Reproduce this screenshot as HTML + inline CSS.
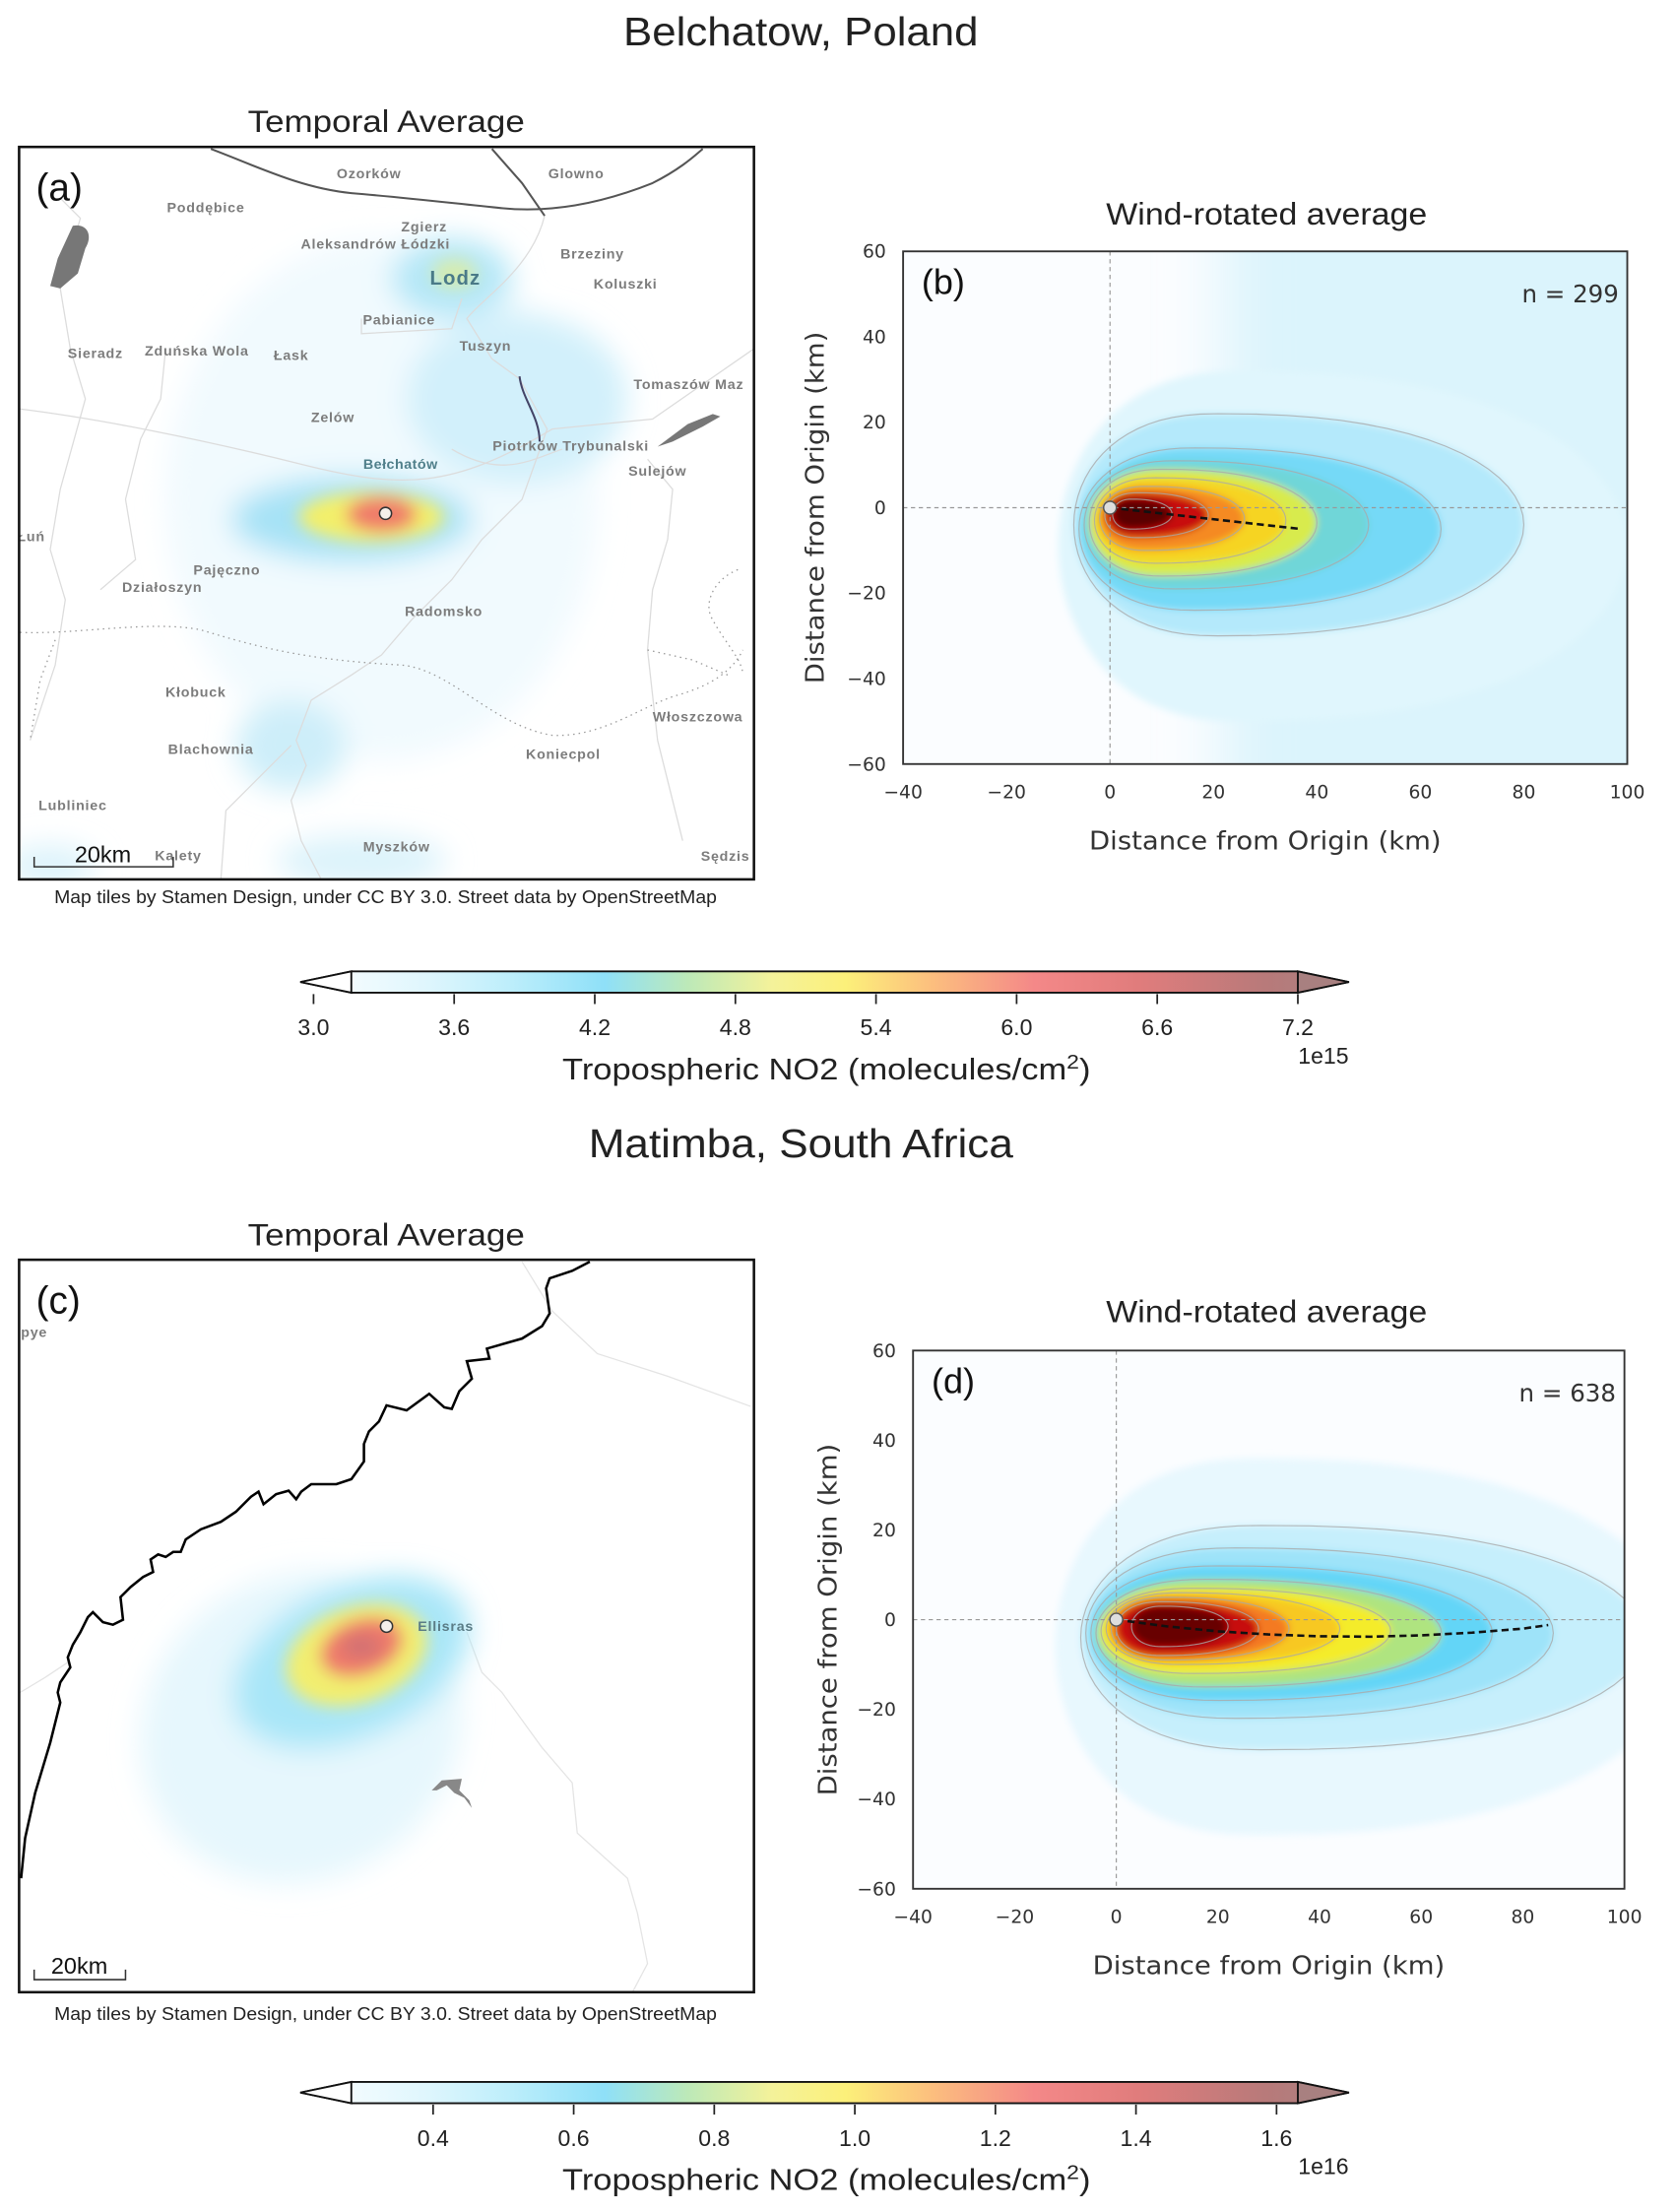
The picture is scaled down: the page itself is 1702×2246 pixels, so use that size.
<!DOCTYPE html>
<html><head><meta charset="utf-8"><style>
html,body{margin:0;padding:0;background:#fff;}
svg{display:block;}
text{font-family:"Liberation Sans",sans-serif;}
.tk{font-family:"DejaVu Sans","Liberation Sans",sans-serif;font-size:13px;fill:#333;}
.ml{font-family:"Liberation Sans",sans-serif;font-weight:bold;font-size:28px;fill:#7c7c7c;letter-spacing:1.5px;}
</style></head><body>
<svg id="root" xmlns="http://www.w3.org/2000/svg" width="1702" height="2246" viewBox="0 0 1180.3 1557.6">
<defs>
<filter id="mapblur" x="-50%" y="-50%" width="200%" height="200%"><feGaussianBlur stdDeviation="28"/></filter>
<filter id="mapblur2" x="-50%" y="-50%" width="200%" height="200%"><feGaussianBlur stdDeviation="16"/></filter>
<filter id="plblur" x="-20%" y="-20%" width="140%" height="140%"><feGaussianBlur stdDeviation="2.5"/></filter>
<filter id="hazeblur" x="-60%" y="-60%" width="220%" height="220%"><feGaussianBlur stdDeviation="22"/></filter>
<clipPath id="clipA"><rect x="38" y="18" width="1464" height="1459"/></clipPath>
<clipPath id="clipB"><rect x="636" y="177" width="510" height="361"/></clipPath>
<clipPath id="clipD"><rect x="643" y="951" width="501" height="379"/></clipPath>
<linearGradient id="cbgrad" x1="0" x2="1" y1="0" y2="0">
<stop offset="0" stop-color="#ffffff"/>
<stop offset="0.12" stop-color="#dff6fd"/>
<stop offset="0.2" stop-color="#bdeefb"/>
<stop offset="0.29" stop-color="#8fe0f8"/>
<stop offset="0.37" stop-color="#bde9b8"/>
<stop offset="0.45" stop-color="#f4f29a"/>
<stop offset="0.52" stop-color="#fcf07a"/>
<stop offset="0.6" stop-color="#fcc07e"/>
<stop offset="0.7" stop-color="#f48888"/>
<stop offset="0.8" stop-color="#e07c7c"/>
<stop offset="0.92" stop-color="#b87a7a"/>
<stop offset="1" stop-color="#a88080"/>
</linearGradient>
</defs>

<!-- Titles -->
<text x="564" y="32" text-anchor="middle" font-size="28" fill="#222" textLength="250" lengthAdjust="spacingAndGlyphs">Belchatow, Poland</text>
<text x="564" y="815" text-anchor="middle" font-size="28" fill="#222" textLength="299" lengthAdjust="spacingAndGlyphs">Matimba, South Africa</text>
<text x="272" y="93" text-anchor="middle" font-size="22" fill="#222" textLength="195" lengthAdjust="spacingAndGlyphs">Temporal Average</text>
<text x="272" y="877" text-anchor="middle" font-size="22" fill="#222" textLength="195" lengthAdjust="spacingAndGlyphs">Temporal Average</text>
<text x="892" y="158" text-anchor="middle" font-size="22" fill="#222" textLength="226" lengthAdjust="spacingAndGlyphs">Wind-rotated average</text>
<text x="892" y="931" text-anchor="middle" font-size="22" fill="#222" textLength="226" lengthAdjust="spacingAndGlyphs">Wind-rotated average</text>

<!-- Panel a map -->
<g id="mapA" transform="translate(0,97.1) scale(0.3535)">
 <g clip-path="url(#clipA)">
  <rect x="38" y="18" width="1464" height="1459" fill="#fff"/>
  <g filter="url(#mapblur)">
   <ellipse cx="760" cy="720" rx="430" ry="520" fill="#f1fafe"/>
   <ellipse cx="1030" cy="520" rx="220" ry="170" fill="#d2f0fb"/>
   <ellipse cx="900" cy="280" rx="120" ry="80" fill="#b4e7f7"/>
   <ellipse cx="580" cy="1210" rx="110" ry="90" fill="#cdeef9"/>
   <ellipse cx="720" cy="1440" rx="170" ry="50" fill="#dbf3fb"/>
   <ellipse cx="100" cy="1450" rx="90" ry="40" fill="#dbf3fb"/>
   <ellipse cx="700" cy="760" rx="240" ry="85" fill="#a6e2f6"/>
  </g>
  <g filter="url(#mapblur2)">
   <ellipse cx="905" cy="270" rx="45" ry="30" fill="#d6ecb0"/>
   <ellipse cx="740" cy="755" rx="145" ry="50" fill="#f3ef6a"/>
   <ellipse cx="760" cy="750" rx="70" ry="35" fill="#f07a6a"/>
  </g>
  <g fill="none" stroke="#dcdcdc" stroke-width="2.5">
   <path d="M1085,155 C1060,260 960,320 930,360 L980,440 L1035,480 L1090,580 L1040,720 L960,800 L900,880 L820,960 L760,1030 L700,1070 L620,1120 L590,1200 L610,1250 L580,1320 L600,1400 L640,1477"/>
   <path d="M40,540 C200,560 400,600 600,650 C800,700 900,700 1100,580 L1300,560 L1502,420"/>
   <path d="M120,120 L160,160 L120,300 L140,420 L170,520 L120,700 L100,820 L130,920 L110,1050 L60,1200"/>
   <path d="M330,420 L320,520 L280,600 L250,720 L270,840 L200,900"/>
   <path d="M720,360 L720,390 L900,380 L920,320"/>
   <path d="M1290,640 L1340,700 L1330,800 L1300,900 L1290,1020 L1310,1200 L1360,1400"/>
   <path d="M900,620 C1000,680 1060,640 1120,620"/>
   <path d="M580,1210 L450,1340 L440,1477"/>
  </g>
  <g fill="none" stroke="#999" stroke-width="2.5" stroke-dasharray="3,8">
   <path d="M40,985 C150,990 300,960 400,980 C500,1010 600,1040 800,1050 C900,1060 980,1170 1100,1190 C1200,1195 1280,1130 1350,1110 C1420,1090 1460,1060 1480,1020"/>
   <path d="M1470,860 C1420,880 1400,930 1420,960 C1440,1000 1480,1040 1480,1070"/>
   <path d="M110,1000 L80,1080 L60,1200"/>
   <path d="M1290,1020 L1380,1040 L1450,1070"/>
  </g>
  <path d="M420,22 C520,60 600,100 700,110 C820,120 900,130 1000,140 C1100,150 1200,130 1300,90 C1360,60 1390,30 1400,22" fill="none" stroke="#555" stroke-width="4"/>
  <path d="M980,22 L1040,90 L1085,155" fill="none" stroke="#555" stroke-width="4"/>
  <path d="M1035,475 C1040,520 1075,555 1075,605" fill="none" stroke="#446" stroke-width="4"/>
  <path d="M145,175 C175,170 185,195 170,220 L155,270 L120,300 L100,295 L115,240 Z" fill="#777"/>
  <path d="M1310,615 L1370,570 L1420,550 L1435,555 L1400,575 L1340,605 Z" fill="#777"/>
  <g class="ml" text-anchor="middle">
   <text x="735" y="80">Ozorków</text><text x="1148" y="80">Glowno</text>
   <text x="410" y="148">Poddębice</text><text x="845" y="186">Zgierz</text>
   <text x="748" y="221">Aleksandrów Łódzki</text><text x="1180" y="240">Brzeziny</text>
   <text x="1246" y="300">Koluszki</text><text x="795" y="372">Pabianice</text>
   <text x="190" y="438">Sieradz</text><text x="392" y="434">Zduńska Wola</text>
   <text x="580" y="442">Łask</text><text x="967" y="424">Tuszyn</text>
   <text x="1372" y="500">Tomaszów Maz</text><text x="663" y="566">Zelów</text>
   <text x="1137" y="623">Piotrków Trybunalski</text>
   <text x="1310" y="673">Sulejów</text><text x="62" y="803">Łuń</text>
   <text x="452" y="870">Pajęczno</text><text x="323" y="904">Działoszyn</text>
   <text x="884" y="952">Radomsko</text><text x="390" y="1113">Kłobuck</text>
   <text x="1390" y="1162">Włoszczowa</text><text x="420" y="1227">Blachownia</text>
   <text x="1122" y="1237">Koniecpol</text><text x="145" y="1339">Lubliniec</text>
   <text x="355" y="1439">Kalety</text><text x="790" y="1421">Myszków</text>
   <text x="1445" y="1440">Sędzis</text>
  </g>
  <text x="907" y="292" text-anchor="middle" font-size="40" font-weight="bold" fill="#4a7a88" letter-spacing="2">Lodz</text>
  <text x="798" y="659" text-anchor="middle" font-size="28" font-weight="bold" fill="#4f7f8a" letter-spacing="1">Bełchatów</text>
 </g>
 <circle cx="768" cy="748" r="12" fill="#f6f0ea" stroke="#333" stroke-width="3"/>
 <rect x="38" y="18" width="1464" height="1459" fill="none" stroke="#111" stroke-width="5"/>
 <text x="118" y="125" text-anchor="middle" font-size="76" fill="#111">(a)</text>
 <path d="M68,1432 L68,1452 L345,1452 L345,1432" fill="none" stroke="#333" stroke-width="3"/>
 <text x="205" y="1443" text-anchor="middle" font-size="46" fill="#111">20km</text>
 <text x="768" y="1524" text-anchor="middle" font-size="36" fill="#222" textLength="1320" lengthAdjust="spacingAndGlyphs">Map tiles by Stamen Design, under CC BY 3.0. Street data by OpenStreetMap</text>
</g>

<!-- Panel c map -->
<g id="mapC" transform="translate(0,880.7) scale(0.3535)">
 <rect x="38" y="18" width="1464" height="1459" fill="#fff"/>
 <g clip-path="url(#clipA)">
  <g fill="none" stroke="#e4e4e4" stroke-width="2.5">
   <path d="M930,760 L960,840 L1000,880 L1080,990 L1140,1060 L1150,1160 L1250,1250 L1270,1320 L1290,1420 L1260,1477"/>
   <path d="M1040,22 L1100,120 L1190,205 L1330,250 L1495,310"/>
   <path d="M40,880 L90,850 L135,820"/>
  </g>
  <g filter="url(#mapblur)">
   <ellipse cx="600" cy="950" rx="330" ry="300" fill="#e6f7fd" transform="rotate(-35 600 950)"/>
   <ellipse cx="700" cy="820" rx="250" ry="150" fill="#a8e6f8" transform="rotate(-25 700 820)"/>
  </g>
  <g filter="url(#mapblur2)">
   <ellipse cx="710" cy="805" rx="145" ry="95" fill="#f2ee70" transform="rotate(-20 710 805)"/>
   <ellipse cx="720" cy="790" rx="85" ry="55" fill="#ef7a6a" transform="rotate(-20 720 790)"/>
   <ellipse cx="720" cy="788" rx="40" ry="25" fill="#d47272"/>
  </g>
  <path d="M1175,22 L1140,40 L1095,55 L1088,75 L1095,125 L1080,150 L1040,175 L970,195 L975,215 L930,220 L940,255 L915,280 L900,315 L885,312 L855,285 L810,318 L770,308 L755,340 L735,360 L725,385 L725,420 L700,455 L670,465 L620,465 L600,480 L590,495 L575,478 L550,485 L525,505 L515,480 L500,490 L470,520 L440,540 L400,555 L370,575 L360,600 L345,600 L330,610 L315,605 L300,615 L305,640 L285,650 L260,670 L240,690 L245,735 L225,745 L205,740 L185,720 L175,730 L160,760 L145,785 L135,810 L140,830 L120,860 L115,880 L120,900 L100,980 L70,1080 L50,1170 L42,1250" fill="none" stroke="#000" stroke-width="5"/>
  <path d="M860,1075 L880,1055 L920,1052 L915,1075 L935,1095 L940,1110 L925,1090 L905,1080 L890,1065 L870,1075 Z" fill="#888"/>
  <text x="68" y="172" text-anchor="middle" class="ml">pye</text>
  <text x="888" y="757" text-anchor="middle" class="ml" style="fill:#5a7c86">Ellisras</text>
 </g>
 <circle cx="770" cy="748" r="12" fill="#f6f0ea" stroke="#333" stroke-width="3"/>
 <rect x="38" y="18" width="1464" height="1459" fill="none" stroke="#111" stroke-width="5"/>
 <text x="116" y="125" text-anchor="middle" font-size="76" fill="#111">(c)</text>
 <path d="M68,1432 L68,1452 L250,1452 L250,1432" fill="none" stroke="#333" stroke-width="3"/>
 <text x="158" y="1440" text-anchor="middle" font-size="46" fill="#111">20km</text>
 <text x="768" y="1532" text-anchor="middle" font-size="36" fill="#222" textLength="1320" lengthAdjust="spacingAndGlyphs">Map tiles by Stamen Design, under CC BY 3.0. Street data by OpenStreetMap</text>
</g>

<g id="plotB"></g>
<g id="plotD"></g>
<g id="cb1"></g>
<g id="cb2"></g>
</svg>

<script>
// ----- Shared tick data -----
const xTicks = [-40, -20, 0, 20, 40, 60, 80, 100];
const yTicks = [60, 40, 20, 0, -20, -40, -60];

// ----- Panel (b) data: contour levels (1e15 molecules/cm2) and their extents in km -----
const bLevels = [3.5, 3.8, 4.1, 4.3, 4.7, 5.1, 5.6, 6.3, 7.0];
const bXmin = [-10, -7, -6, -5, -4, -3, -2, -1, 0.5];
const bXmax = [100, 80, 64, 50, 40, 34, 26, 19, 12];
const bYtop = [32, 22, 14, 11, 9, 7, 5, 3.5, 2];
const bYbot = [-50, -30, -24, -19, -16, -13, -10, -7, -5];
const bPathX = [0, 37];
const bPathY = [0, -5];
const bCount = 299;

// ----- Panel (d) data (1e16 molecules/cm2) -----
const dLevels = [0.40, 0.50, 0.58, 0.66, 0.78, 0.88, 1.00, 1.15, 1.35, 1.55];
const dXmin = [-12, -7, -6, -5, -4, -3, -2, -1, 0, 3];
const dXmax = [112, 104, 86, 74, 64, 54, 44, 34, 28, 22];
const dYtop = [36, 21, 16, 12, 9, 7, 6, 5, 4, 3];
const dYbot = [-48, -29, -22, -18, -15, -12, -10, -9, -8, -6];
const dPathX = [0, 10, 20, 30, 40, 50, 60, 70, 80, 85];
const dPathY = [0, -1.5, -2.6, -3.3, -3.7, -3.8, -3.5, -2.9, -2.0, -1.2];
const dCount = 638;

// ----- Colorbar data -----
const cb1Ticks = [3.0, 3.6, 4.2, 4.8, 5.4, 6.0, 6.6, 7.2];
const cb1Labels = ['3.0', '3.6', '4.2', '4.8', '5.4', '6.0', '6.6', '7.2'];
const cb2Ticks = [0.4, 0.6, 0.8, 1.0, 1.2, 1.4, 1.6];
const cb2Labels = ['0.4', '0.6', '0.8', '1.0', '1.2', '1.4', '1.6'];

const NS = 'http://www.w3.org/2000/svg';
function el(tag, attrs, parent) {
  const e = document.createElementNS(NS, tag);
  for (const k in attrs) e.setAttribute(k, attrs[k]);
  parent.appendChild(e);
  return e;
}
const stops = [[0,'#ffffff'],[0.12,'#e0f6fd'],[0.21,'#a8e6fa'],[0.29,'#5ad2f6'],[0.36,'#a6e28a'],[0.43,'#f4f02a'],[0.55,'#f8c020'],[0.64,'#f47a20'],[0.74,'#e01a10'],[0.86,'#a00000'],[0.95,'#5a0000'],[1,'#500000']];
function hex(c){return [parseInt(c.substr(1,2),16),parseInt(c.substr(3,2),16),parseInt(c.substr(5,2),16)];}
function cmap(t){
  t=Math.max(0,Math.min(1,t));
  for(let i=1;i<stops.length;i++){
    if(t<=stops[i][0]){
      const a=stops[i-1],b=stops[i];const f=(t-a[0])/(b[0]-a[0]);
      const A=hex(a[1]),B=hex(b[1]);
      return 'rgb('+A.map((v,j)=>Math.round(v+(B[j]-v)*f)).join(',')+')';
    }
  }
  return stops[stops.length-1][1];
}

function plumePath(X, Y, xmin, xmax, yt, yb) {
  const xc = xmin + 0.32 * (xmax - xmin);
  const yc = (yt + yb) / 2;
  let d = '';
  for (let i = 0; i <= 72; i++) {
    const t = i / 72 * Math.PI * 2;
    const c = Math.cos(t), s = Math.sin(t);
    const cc = Math.sign(c) * Math.pow(Math.abs(c), 0.85);
    const x = c >= 0 ? xc + (xmax - xc) * cc : xc + (xc - xmin) * cc;
    const y = s >= 0 ? yc + (yt - yc) * s : yc + (yc - yb) * s;
    d += (i ? 'L' : 'M') + X(x).toFixed(2) + ',' + Y(y).toFixed(2);
  }
  return d + 'Z';
}

function drawPlot(g, box, clip, levels, xmin, xmax, ytop, ybot, vmin, vmax, px, py, count, panelLabel, haze) {
  const X = v => box.x0 + (v + 40) / 140 * (box.x1 - box.x0);
  const Y = v => box.y0 + (60 - v) / 120 * (box.y1 - box.y0);
  const bg = el('rect', {x: box.x0, y: box.y0, width: box.x1 - box.x0, height: box.y1 - box.y0, fill: '#fbfdff'}, g);
  
  
  const field = el('g', {'clip-path': 'url(#' + clip + ')'}, g);
  
  
  if (haze) {
    const hz = el('rect', {x: X(22), y: box.y0 - 60, width: box.x1 - X(22) + 60, height: box.y1 - box.y0 + 120, fill: '#d3f1fb', 'fill-opacity': 0.8, filter: 'url(#hazeblur)'}, field);
    
    
  }
  const fills = el('g', {filter: 'url(#plblur)'}, field);
  for (let i = 0; i < levels.length; i++) {
    const p = el('path', {d: plumePath(X, Y, xmin[i], xmax[i], ytop[i], ybot[i]), fill: cmap((levels[i] - vmin) / (vmax - vmin))}, fills);
    
    
  }
  for (let i = 1; i < levels.length; i++) {
    const c = el('path', {d: plumePath(X, Y, xmin[i], xmax[i], ytop[i], ybot[i]), fill: 'none', stroke: '#a9a9a9', 'stroke-width': 0.8, 'stroke-opacity': 0.8}, field);
    
    
  }
  const vl = el('line', {x1: X(0), x2: X(0), y1: box.y0, y2: box.y1, stroke: '#999', 'stroke-width': 0.8, 'stroke-dasharray': '3,2.5'}, g);
  
  
  const hl = el('line', {x1: box.x0, x2: box.x1, y1: Y(0), y2: Y(0), stroke: '#999', 'stroke-width': 0.8, 'stroke-dasharray': '3,2.5'}, g);
  
  
  let d = '';
  for (let i = 0; i < px.length; i++) d += (i ? 'L' : 'M') + X(px[i]).toFixed(2) + ',' + Y(py[i]).toFixed(2);
  const cl = el('path', {d: d, fill: 'none', stroke: '#111', 'stroke-width': 1.8, 'stroke-dasharray': '5,3'}, g);
  
  
  const oc = el('circle', {cx: X(0), cy: Y(0), r: 4.5, fill: '#ddd', stroke: '#555', 'stroke-width': 1}, g);
  
  
  const fr = el('rect', {x: box.x0, y: box.y0, width: box.x1 - box.x0, height: box.y1 - box.y0, fill: 'none', stroke: '#333', 'stroke-width': 1.3}, g);
  
  
  for (const v of xTicks) {
    const t = el('text', {x: X(v), y: box.y1 + 24, 'text-anchor': 'middle', class: 'tk'}, g);
    t.textContent = (v < 0 ? '\u2212' + (-v) : '' + v);
    
    
  }
  for (const v of yTicks) {
    const t = el('text', {x: box.x0 - 12, y: Y(v) + 4.5, 'text-anchor': 'end', class: 'tk'}, g);
    t.textContent = (v < 0 ? '\u2212' + (-v) : '' + v);
    
    
  }
  const xl = el('text', {x: (box.x0 + box.x1) / 2, y: box.y1 + 60, 'text-anchor': 'middle', class: 'tk', style: 'font-size:18px', textLength: 248, lengthAdjust: 'spacingAndGlyphs'}, g);
  xl.textContent = 'Distance from Origin (km)';
  
  
  const yx = box.ylabX, yy = (box.y0 + box.y1) / 2;
  const yl = el('text', {x: yx, y: yy, 'text-anchor': 'middle', class: 'tk', style: 'font-size:18px', textLength: 248, lengthAdjust: 'spacingAndGlyphs', transform: 'rotate(-90 ' + yx + ' ' + yy + ')'}, g);
  yl.textContent = 'Distance from Origin (km)';
  
  
  const pl = el('text', {x: box.x0 + 13, y: box.y0 + 30, 'font-size': 25, fill: '#111'}, g);
  pl.textContent = panelLabel;
  
  
  const nt = el('text', {x: box.x1 - 6, y: box.y0 + 36, 'text-anchor': 'end', class: 'tk', style: 'font-size:17px'}, g);
  nt.textContent = 'n = ' + count;
  
  
}

drawPlot(document.getElementById('plotB'), {x0: 636, x1: 1146, y0: 177, y1: 538, ylabX: 580}, 'clipB',
  bLevels, bXmin, bXmax, bYtop, bYbot, 3.0, 7.2, bPathX, bPathY, bCount, '(b)', true);
drawPlot(document.getElementById('plotD'), {x0: 643, x1: 1144, y0: 951, y1: 1330, ylabX: 589}, 'clipD',
  dLevels, dXmin, dXmax, dYtop, dYbot, 0.28, 1.64, dPathX, dPathY, dCount, '(d)', false);

function drawColorbar(g, y0, y1, ticks, labels, t0x, t1x, v0, v1, mult) {
  const V = v => t0x + (v - v0) / (v1 - v0) * (t1x - t0x);
  const xs = 247.4, xe = 914, tip = 950, ym = (y0 + y1) / 2;
  const body = el('path', {d: 'M211.5,' + ym + ' L' + xs + ',' + y0 + ' L' + xe + ',' + y0 + ' L' + tip + ',' + ym + ' L' + xe + ',' + y1 + ' L' + xs + ',' + y1 + ' Z', fill: 'url(#cbgrad)', stroke: '#111', 'stroke-width': 1.3}, g);
  
  
  const lt = el('path', {d: 'M211.5,' + ym + ' L' + xs + ',' + y0 + ' L' + xs + ',' + y1 + ' Z', fill: '#fff', stroke: '#111', 'stroke-width': 1.3}, g);
  
  
  const rt = el('path', {d: 'M' + tip + ',' + ym + ' L' + xe + ',' + y0 + ' L' + xe + ',' + y1 + ' Z', fill: '#a88080', stroke: '#111', 'stroke-width': 1.3}, g);
  
  
  for (let i = 0; i < ticks.length; i++) {
    const x = V(ticks[i]);
    const tm = el('line', {x1: x, x2: x, y1: y1 + 1, y2: y1 + 8, stroke: '#222', 'stroke-width': 1.2}, g);
    
    
    const t = el('text', {x: x, y: y1 + 30, 'text-anchor': 'middle', 'font-size': 16, fill: '#222'}, g);
    t.textContent = labels[i];
    
    
  }
  const m = el('text', {x: 932, y: y1 + 50, 'text-anchor': 'middle', 'font-size': 16, fill: '#222'}, g);
  m.textContent = mult;
  
  
  const lb = el('text', {x: 582, y: y1 + 61, 'text-anchor': 'middle', 'font-size': 21, fill: '#222', textLength: 372, lengthAdjust: 'spacingAndGlyphs'}, g);
  lb.innerHTML = 'Tropospheric NO2 (molecules/cm<tspan baseline-shift="super" font-size="14">2</tspan>)';
  
  
}
drawColorbar(document.getElementById('cb1'), 684, 699, cb1Ticks, cb1Labels, 220.8, 914, 3.0, 7.2, '1e15');
drawColorbar(document.getElementById('cb2'), 1466, 1481, cb2Ticks, cb2Labels, 305, 899, 0.4, 1.6, '1e16');
</script>
</body></html>
